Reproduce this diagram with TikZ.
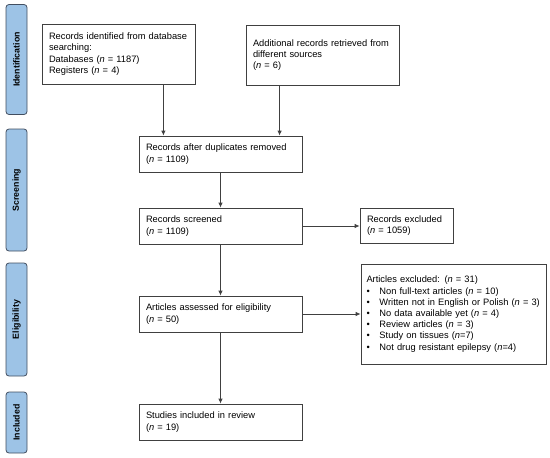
\documentclass[tikz,border=0pt]{standalone}
\usepackage{fontspec}
\setmainfont{Liberation Sans}
\usetikzlibrary{arrows.meta,positioning,calc}

\definecolor{stageblue}{RGB}{157,195,230}
\definecolor{stageedge}{RGB}{66,78,96}
\definecolor{boxedge}{RGB}{64,64,64}
\newcommand{\bul}{\makebox[13pt][l]{\textbullet}}

\begin{document}
\begin{tikzpicture}[
    x=1pt, y=-1pt,
    box/.style={draw=boxedge, line width=0.8pt, align=left, inner xsep=7pt, inner ysep=0pt, font=\fontsize{9.3}{11.2}\selectfont},
    wide/.style={box, text width=149pt, minimum height=36pt},
    stage/.style={draw=stageedge, fill=stageblue, rounded corners=3pt, line width=0.8pt, minimum height=21pt, inner sep=0pt, rotate=90, font=\fontsize{8.8}{9}\selectfont\bfseries},
    arrow/.style={-{Latex[length=5pt,width=4.5pt]}, draw=boxedge, line width=0.8pt}
]
\useasboundingbox (0,0) rectangle (550,458);

% Stage bars on the left
\node[stage, minimum width=110pt] (identstage) at (16.5,59.5) {Identification};
\node[stage, minimum width=122pt] (screenstage) at (16.5,190) {Screening};
\node[stage, minimum width=113pt] (eligstage) at (16.5,319.5) {Eligibility};
\node[stage, minimum width=61pt] (inclstage) at (16.5,422.5) {Included};

% Identification
\node[box, text width=139pt, minimum height=60pt] (ident) at (118.5,54) {Records identified from database\\searching:\\Databases (\textit{n} = 1187)\\Registers (\textit{n} = 4)};
\node[box, text width=139pt, minimum height=60pt] (other) at (322.5,55) {Additional records retrieved from\\different sources\\(\textit{n} = 6)};

% Screening
\node[wide] (dup) at (220.5,154) {Records after duplicates removed\\(\textit{n} = 1109)};
\node[wide] (screened) at (220.5,226) {Records screened\\(\textit{n} = 1109)};
\node[box, text width=79pt, minimum height=35pt] (recexcl) at (406.5,225.5) {Records excluded\\(\textit{n} = 1059)};

% Eligibility
\node[box, text width=149pt, minimum height=36pt] (assessed) at (220.5,314) {Articles assessed for eligibility\\(\textit{n} = 50)};
\node[box, text width=174pt, inner xsep=5.5pt, minimum height=100pt] (artexcl) at (453.5,314) {Articles excluded: (\textit{n} = 31)\\%
\bul Non full-text articles (\textit{n} = 10)\\%
\bul Written not in English or Polish (\textit{n} = 3)\\%
\bul No data available yet (\textit{n} = 4)\\%
\bul Review articles (\textit{n} = 3)\\%
\bul Study on tissues (\textit{n}=7)\\%
\bul Not drug resistant epilepsy (\textit{n}=4)};

% Included
\node[wide] (studies) at (220.5,422) {Studies included in review\\(\textit{n} = 19)};

% Connections
\coordinate (identout) at ([xshift=-32pt]ident.south east);
\coordinate (otherout) at ([xshift=34pt]other.south west);
\draw[arrow] (identout) -- (identout |- dup.north);
\draw[arrow] (otherout) -- (otherout |- dup.north);
\draw[arrow] (dup) -- (screened);
\draw[arrow] (screened.east) -- (screened.east -| recexcl.west);
\draw[arrow] (screened) -- (assessed);
\draw[arrow] (assessed) -- (artexcl);
\draw[arrow] (assessed) -- (studies);

\end{tikzpicture}
\end{document}
